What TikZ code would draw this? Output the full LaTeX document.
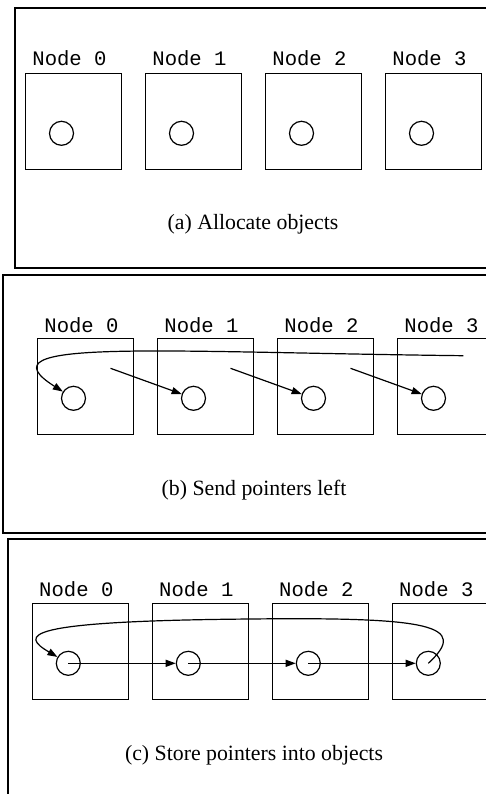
\documentclass[tikz,border=0pt]{standalone}
\usepackage{fontspec}
\setmainfont{Liberation Serif}
\setmonofont{Liberation Mono}
\usepackage{tikz}
\usetikzlibrary{positioning}
\usetikzlibrary{arrows.meta}

\begin{document}
\begin{tikzpicture}
  [
    x=0.5pt, y=-0.5pt,
    cell/.style={
       draw=black,
       line width=0.6pt,
       minimum size=48pt,
       inner sep=0pt
    },
    obj/.style={
       draw=black,
       circle,
       line width=0.6pt,
       minimum size=12pt,
       inner sep=0pt
    },
    lbl/.style={
       anchor=base,
       inner sep=0pt,
       font=\ttfamily\fontsize{10.3}{12}\selectfont
    },
    subcap/.style={
       anchor=base,
       inner sep=0pt,
       font=\fontsize{10.9}{13}\selectfont
    },
    panel/.style={
       draw=black,
       line width=1pt
    },
    ptr/.style={
       draw=black,
       line width=0.6pt,
       -{Triangle[length=5pt,width=3.5pt]}
    }
  ]
  \useasboundingbox (0,0) rectangle (486,794);
  \clip (0,0) rectangle (486,794);

  \draw [panel] (14.5,8) rectangle (520,268);
  \node (a0)  at ( 73.5,121.3) [cell] {};
  \node (a1)  at (193.5,121.3) [cell] {};
  \node (a2)  at (313.5,121.3) [cell] {};
  \node (a3)  at (433.5,121.3) [cell] {};
  \node (ao0) at ( 61.5,133.3) [obj]  {};
  \node (ao1) at (181.5,133.3) [obj]  {};
  \node (ao2) at (301.5,133.3) [obj]  {};
  \node (ao3) at (421.5,133.3) [obj]  {};
  \node (al0) at ( 69.5, 65.7) [lbl]  {Node 0};
  \node (al1) at (189.5, 65.7) [lbl]  {Node 1};
  \node (al2) at (309.5, 65.7) [lbl]  {Node 2};
  \node (al3) at (429.5, 65.7) [lbl]  {Node 3};
  \node (acap) at (253,229)    [subcap] {(a) Allocate objects};

  \draw [panel] (3,274.5) rectangle (520,533);
  \node (b0)  at ( 85.5,386.3) [cell] {};
  \node (b1)  at (205.5,386.3) [cell] {};
  \node (b2)  at (325.5,386.3) [cell] {};
  \node (b3)  at (445.5,386.3) [cell] {};
  \node (bo0) at ( 73.5,398.3) [obj]  {};
  \node (bo1) at (193.5,398.3) [obj]  {};
  \node (bo2) at (313.5,398.3) [obj]  {};
  \node (bo3) at (433.5,398.3) [obj]  {};
  \node (bl0) at ( 81.5,332)   [lbl]  {Node 0};
  \node (bl1) at (201.5,332)   [lbl]  {Node 1};
  \node (bl2) at (321.5,332)   [lbl]  {Node 2};
  \node (bl3) at (441.5,332)   [lbl]  {Node 3};
  \node (bcap) at (254,495)    [subcap] {(b) Send pointers left};
  \coordinate (bs0) at (110.5,368.3);
  \coordinate (bs1) at (230.5,368.3);
  \coordinate (bs2) at (350.5,368.3);
  \coordinate (bs3) at (463.3,355.7);
  \draw [ptr] (bs0) -- (bo1);
  \draw [ptr] (bs1) -- (bo2);
  \draw [ptr] (bs2) -- (bo3);
  \draw [ptr] (bs3) .. controls (150,352) and (-22,338) .. (bo0);

  \draw [panel] (8.3,539.3) rectangle (520,820);
  \node (c0)  at ( 80.3,651.3) [cell] {};
  \node (c1)  at (200.3,651.3) [cell] {};
  \node (c2)  at (320.3,651.3) [cell] {};
  \node (c3)  at (440.3,651.3) [cell] {};
  \node (co0) at ( 68.3,663.3) [obj]  {};
  \node (co1) at (188.3,663.3) [obj]  {};
  \node (co2) at (308.3,663.3) [obj]  {};
  \node (co3) at (428.3,663.3) [obj]  {};
  \node (cl0) at ( 76.3,596.7) [lbl]  {Node 0};
  \node (cl1) at (196.3,596.7) [lbl]  {Node 1};
  \node (cl2) at (316.3,596.7) [lbl]  {Node 2};
  \node (cl3) at (436.3,596.7) [lbl]  {Node 3};
  \node (ccap) at (254,760)    [subcap] {(c) Store pointers into objects};
  \coordinate (ctop) at (250,619);
  \draw [ptr] (co0.center) -- (co1);
  \draw [ptr] (co1.center) -- (co2);
  \draw [ptr] (co2.center) -- (co3);
  \draw [ptr] (co3.center) .. controls (470,625) and (430,617) .. (ctop)
                            .. controls (20,621) and (20,635) .. (co0);
\end{tikzpicture}
\end{document}
